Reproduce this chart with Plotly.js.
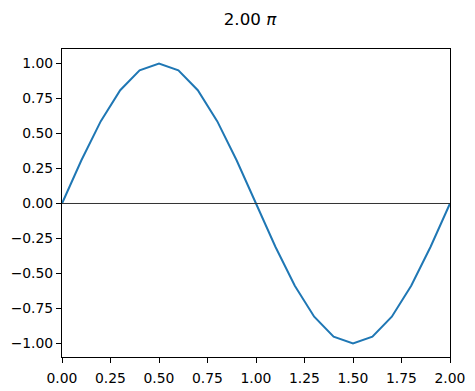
<!DOCTYPE html>
<html><head><meta charset="utf-8">
<script src="https://cdn.plot.ly/plotly-3.0.1.min.js"></script>
<style>html,body{margin:0;padding:0;background:#fff}#chart{width:475px;height:391px}</style>
</head><body><div id="chart"></div>
<script>
const xValues = [0.0,0.1,0.2,0.3,0.4,0.5,0.6,0.7,0.8,0.9,1.0,1.1,1.2,1.3,1.4,1.5,1.6,1.7,1.8,1.9,2.0];
const yValues = [0.0,0.309,0.588,0.809,0.951,1.0,0.951,0.809,0.588,0.309,0.0,-0.309,-0.588,-0.809,-0.951,-1.0,-0.951,-0.809,-0.588,-0.309,0.0];
const xTicks = [0,0.25,0.5,0.75,1.0,1.25,1.5,1.75,2.0];
const xTickLabels = ["0.00","0.25","0.50","0.75","1.00","1.25","1.50","1.75","2.00"];
const yTicks = [-1,-0.75,-0.5,-0.25,0,0.25,0.5,0.75,1];
const yTickLabels = ["\u22121.00","\u22120.75","\u22120.50","\u22120.25","0.00","0.25","0.50","0.75","1.00"];
const titleText = "2.00 <i>\u03c0</i>";

const font = {family: "DejaVu Sans", size: 13.9, color: "#000"};
const data = [{
  x: xValues, y: yValues, type: "scatter", mode: "lines",
  line: {color: "#1f77b4", width: 2}, hoverinfo: "skip"
}];
const layout = {
  width: 475, height: 391,
  margin: {l: 62, r: 25, t: 49, b: 34},
  paper_bgcolor: "#fff", plot_bgcolor: "#fff",
  showlegend: false,
  font: font,
  title: {text: titleText, font: {family: "DejaVu Sans", size: 16.7, color: "#000"},
          x: 250/475, xref: "container", xanchor: "center", y: 1 - 19/391, yref: "container", yanchor: "middle"},
  xaxis: {range: [0, 2], tickvals: xTicks, ticktext: xTickLabels, ticks: "outside", ticklen: 5,
          tickwidth: 1, tickcolor: "#000", showline: true, linecolor: "#000", linewidth: 1,
          mirror: true, showgrid: false, zeroline: false, tickfont: font, ticklabelstandoff: 3},
  yaxis: {range: [-1.0965, 1.1035], tickvals: yTicks, ticktext: yTickLabels, ticks: "outside", ticklen: 5,
          tickwidth: 1, tickcolor: "#000", showline: true, linecolor: "#000", linewidth: 1,
          mirror: true, showgrid: false, zeroline: false, tickfont: font},
  shapes: [{type: "line", xref: "paper", x0: 0, x1: 1, yref: "y", y0: 0, y1: 0,
            line: {color: "#333", width: 1}, layer: "above"}]
};
Plotly.newPlot("chart", data, layout, {staticPlot: true, displayModeBar: false});
</script></body></html>
